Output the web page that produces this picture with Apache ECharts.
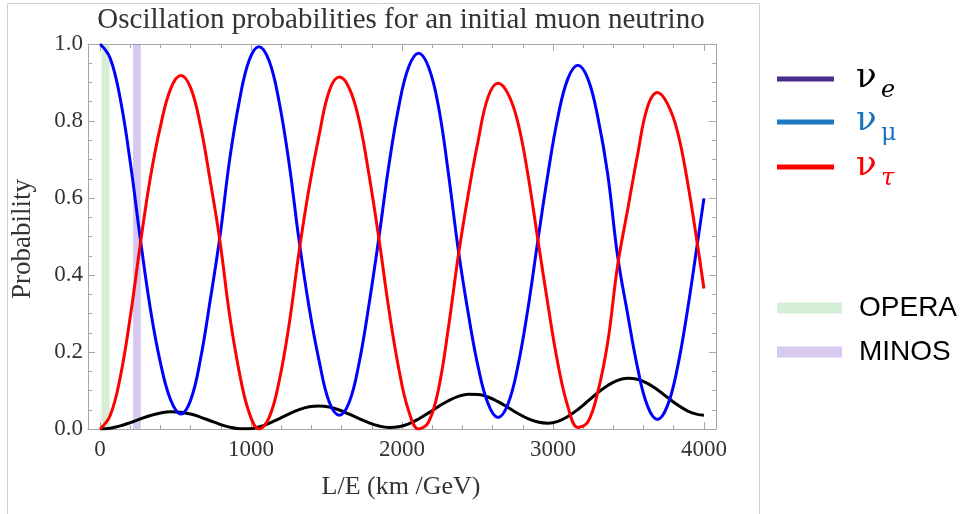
<!DOCTYPE html>
<html>
<head>
<meta charset="utf-8">
<script src="https://cdn.jsdelivr.net/npm/echarts@6/dist/echarts.min.js"></script>
<style>
html,body{margin:0;padding:0;background:#fff;}
#chart{width:965px;height:514px;}
</style>
</head>
<body>
<div id="chart"></div>
<script>
// L/E sample positions (km/GeV)
const leGrid = [0,67,134,201,268,334,401,468,535,
  600,664,729,794,858,923,987,1052,
  1119,1185,1252,1318,1385,1452,1518,1585,
  1651,1716,1782,1848,1913,1979,2044,2110,
  2176,2242,2307,2373,2439,2505,2570,2636,
  2702,2768,2834,2900,2967,3033,3099,3165,
  3231,3297,3363,3428,3494,3560,3626,3692,
  3758,3824,3890,3956,4000];
// nu_mu survival probability
const probMu = [1.0,0.963,0.857,0.69,0.49,0.31,0.17,0.075,0.039,
  0.075,0.179,0.333,0.50,0.699,0.853,0.957,0.993,
  0.957,0.852,0.69,0.49,0.315,0.175,0.07,0.036,
  0.070,0.172,0.325,0.50,0.685,0.838,0.940,0.976,
  0.940,0.837,0.665,0.465,0.30,0.16,0.066,0.030,
  0.065,0.164,0.312,0.49,0.663,0.811,0.910,0.945,
  0.910,0.810,0.661,0.45,0.30,0.160,0.060,0.025,
  0.060,0.158,0.306,0.48,0.599];
// nu_tau appearance probability
const probTau = [0,0.035,0.135,0.294,0.484,0.655,0.788,0.884,0.918,
  0.886,0.790,0.646,0.488,0.296,0.146,0.043,0.0,
  0.029,0.122,0.271,0.46,0.627,0.765,0.878,0.914,
  0.885,0.801,0.659,0.492,0.311,0.156,0.047,0.0,
  0.018,0.104,0.262,0.45,0.61,0.75,0.862,0.898,
  0.871,0.796,0.661,0.492,0.322,0.169,0.058,0.004,
  0.018,0.096,0.226,0.424,0.568,0.711,0.836,0.874,
  0.845,0.774,0.645,0.482,0.365];
// nu_e appearance probability
const probE = [0,0.0021,0.008,0.0165,0.0262,0.0351,0.0418,0.0449,0.0438,
  0.0388,0.031,0.0215,0.0122,0.0049,0.0007,0.0005,0.0052,
  0.0145,0.0265,0.0394,0.0503,0.0577,0.06,0.057,0.0494,
  0.0386,0.0269,0.016,0.0078,0.0042,0.0058,0.0134,0.0261,
  0.0419,0.0586,0.0734,0.0848,0.0904,0.0899,0.0831,0.0711,
  0.056,0.0404,0.0269,0.018,0.015,0.0197,0.0323,0.0507,
  0.0724,0.0944,0.1132,0.1263,0.1319,0.1291,0.1185,0.102,
  0.0823,0.0629,0.0472,0.0379,0.036];
// experiment bands (L/E ranges)
const operaBand = [10, 63];
const minosBand = [219, 270];
// ticks
const xMajorTicks = [0,1000,2000,3000,4000];
const xMinorTicks = [200,400,600,800,1200,1400,1600,1800,2200,2400,2600,2800,3200,3400,3600,3800];
const titleText = 'Oscillation probabilities for an initial muon neutrino';
const xTitle = 'L/E (km /GeV)';
const yTitle = 'Probability';

const zip = (xs, ys) => xs.map((x, i) => [x, ys[i]]);
const frameColor = '#a6a6a6';
const serif = "'Liberation Serif', 'Times New Roman', serif";
const labelStyle = {color:'#333', fontFamily: serif, fontSize: 23};

function xAxisDef(pos, ticks, len, showLine, showLabel) {
  return {
    type:'value', position: pos, min:-80, max:4080, gridIndex:0,
    axisLine:{show:showLine, onZero:false, lineStyle:{color:frameColor, width:1}},
    axisTick:{show:true, inside:true, length:len, customValues:ticks, lineStyle:{color:frameColor}},
    axisLabel:{show:showLabel, customValues:ticks, margin:9, formatter:v=>String(v), ...labelStyle},
    splitLine:{show:false}
  };
}
function yAxisDef(pos, showLabel) {
  return {
    type:'value', position: pos, min:0, max:1, interval:0.2,
    axisLine:{show:true, onZero:false, lineStyle:{color:frameColor, width:1}},
    axisTick:{show:true, inside:true, length:7, lineStyle:{color:frameColor}},
    minorTick:{show:true, splitNumber:4, length:4, lineStyle:{color:frameColor}},
    axisLabel:{show:showLabel, margin:5, padding:[6,0,0,0], formatter:v=>v.toFixed(1), ...labelStyle},
    splitLine:{show:false}
  };
}

const chart = echarts.init(document.getElementById('chart'));
const legendItems = [
  {c:'#4a2c8a', y:79, sym:'e', tc:'#000', it:true},
  {c:'#1f78c4', y:122, sym:'μ', tc:'#1a73c1', it:false},
  {c:'#ff0000', y:167, sym:'τ', tc:'#ff0000', it:true}
];
const graphics = [
  {type:'rect', shape:{x:7.5, y:3.5, width:752, height:530}, style:{fill:'none', stroke:'#cfd1da', lineWidth:1}, silent:true, z:-10},
  {type:'text', x:401, y:20, style:{text:titleText, fill:'#333', font:"29px "+serif, textAlign:'center', textVerticalAlign:'middle'}},
  {type:'text', x:401, y:487, style:{text:xTitle, fill:'#333', font:"26px "+serif, textAlign:'center', textVerticalAlign:'middle'}},
  {type:'text', x:23, y:239, rotation:Math.PI/2, style:{text:yTitle, fill:'#333', font:"27px "+serif, textAlign:'center', textVerticalAlign:'middle'}}
];
legendItems.forEach(it => {
  graphics.push({type:'line', shape:{x1:777, y1:it.y, x2:834, y2:it.y}, style:{stroke:it.c, lineWidth:5}});
  graphics.push({type:'text', x:856, y:it.y-1, style:{text:'ν', fill:it.tc, font:"34px 'DejaVu Serif'", textAlign:'left', textVerticalAlign:'middle'}});
  graphics.push({type:'text', x:881, y:it.y+12, style:{text:it.sym, fill:it.tc, font:(it.it?"italic ":"")+"24px 'DejaVu Serif'", textAlign:'left', textVerticalAlign:'middle'}});
});
[{c:'#d5efd6', y:308, t:'OPERA'},{c:'#d7c9ef', y:352, t:'MINOS'}].forEach(it => {
  graphics.push({type:'line', shape:{x1:777, y1:it.y, x2:842, y2:it.y}, style:{stroke:it.c, lineWidth:11}});
  graphics.push({type:'text', x:859, y:it.y, style:{text:it.t, fill:'#000', font:"28px 'Liberation Sans', Arial, sans-serif", textAlign:'left', textVerticalAlign:'middle'}});
});

chart.setOption({
  animation:false,
  backgroundColor:'#fff',
  grid:{left:88, right:249, top:44, bottom:85, containLabel:false},
  xAxis:[
    xAxisDef('bottom', xMajorTicks, 7, true, true),
    xAxisDef('bottom', xMinorTicks, 4, false, false),
    xAxisDef('top', xMajorTicks, 7, true, false),
    xAxisDef('top', xMinorTicks, 4, false, false)
  ],
  yAxis:[yAxisDef('left', true), yAxisDef('right', false)],
  series:[
    {name:'nu_e', type:'line', data:zip(leGrid, probE), smooth:0.4, showSymbol:false, lineStyle:{color:'#000', width:3}, z:2},
    {name:'nu_mu', type:'line', data:zip(leGrid, probMu), smooth:0.4, showSymbol:false, lineStyle:{color:'#0000ff', width:3}, z:3},
    {name:'nu_tau', type:'line', data:zip(leGrid, probTau), smooth:0.4, showSymbol:false, lineStyle:{color:'#ff0000', width:3}, z:4},
    {name:'bands', type:'line', data:[], z:10, silent:true,
      markArea:{silent:true, data:[
        [{xAxis:operaBand[0], itemStyle:{color:'rgba(152,212,152,0.4)'}}, {xAxis:operaBand[1]}],
        [{xAxis:minosBand[0], itemStyle:{color:'rgba(152,117,212,0.4)'}}, {xAxis:minosBand[1]}]
      ]}}
  ],
  graphic: graphics
});
</script>
</body>
</html>
